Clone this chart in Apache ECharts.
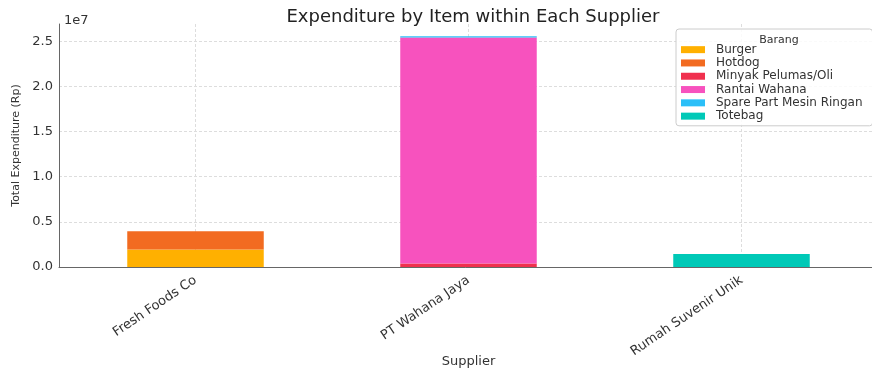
<!DOCTYPE html>
<html><head><meta charset="utf-8">
<script src="https://cdn.jsdelivr.net/npm/echarts@6/dist/echarts.min.js"></script>
<style>html,body{margin:0;padding:0;background:#fff}#c{width:872px;height:372px}</style>
</head><body><div id="c"></div>
<script>
const suppliers = ['Fresh Foods Co', 'PT Wahana Jaya', 'Rumah Suvenir Unik'];
const items = ['Burger', 'Hotdog', 'Minyak Pelumas/Oli', 'Rantai Wahana', 'Spare Part Mesin Ringan', 'Totebag'];
const burger = [1950000, null, null];
const hotdog = [2000000, null, null];
const minyak = [null, 400000, null];
const rantai = [null, 25000000, null];
const sparePart = [null, 150000, null];
const totebag = [null, null, 1450000];
const colors = ['#FFB000', '#F26B21', '#F0304E', '#F752BE', '#2BBFF8', '#00C9B7'];
const yTicks = ['0.0', '0.5', '1.0', '1.5', '2.0', '2.5'];
const seriesValues = [burger, hotdog, minyak, rantai, sparePart, totebag];

const FONT = 'DejaVu Sans';
const chart = echarts.init(document.getElementById('c'));
chart.setOption({
  animation: false,
  textStyle: { fontFamily: FONT },
  title: [
    { text: 'Expenditure by Item within Each Supplier', left: 468, top: 3, textAlign: 'center',
      textStyle: { fontFamily: FONT, fontSize: 18, fontWeight: 'normal', color: '#222' } },
    { text: '1e7', left: 59, top: 9, textStyle: { fontFamily: FONT, fontSize: 13, fontWeight: 'normal', color: '#333' } },
    { text: 'Barang', left: 774, top: 30, textAlign: 'center', textStyle: { fontFamily: FONT, fontSize: 11, fontWeight: 'normal', color: '#333' } }
  ],
  legend: {
    data: items, orient: 'vertical', left: 676, top: 29,
    padding: [14, 10, 3, 5], itemGap: 0, itemWidth: 24, itemHeight: 7, icon: 'rect',
    borderColor: '#ccc', borderWidth: 1, borderRadius: 3, backgroundColor: 'rgba(255,255,255,0.85)',
    textStyle: { fontFamily: FONT, fontSize: 12, lineHeight: 13.3, color: '#333', padding: [0, 0, 0, 6] }
  },
  grid: { left: 59, right: -6, top: 24, bottom: 105, containLabel: false, outerBoundsMode: 'none' },
  xAxis: [
    { type: 'category', data: suppliers, boundaryGap: true,
      name: 'Supplier', nameLocation: 'middle', nameGap: 88, nameMoveOverlap: false,
      nameTextStyle: { fontFamily: FONT, fontSize: 13, color: '#333' },
      axisLine: { lineStyle: { color: '#666', width: 1 } },
      axisTick: { alignWithLabel: true, length: 3, lineStyle: { color: '#333' } },
      axisLabel: { rotate: 34, fontSize: 13, color: '#333', margin: 12, fontFamily: FONT },
      splitLine: { show: false } },
    { type: 'category', data: ['0','1','2','3','4','5','6'], boundaryGap: false, position: 'bottom',
      axisLine: { show: false }, axisTick: { show: false }, axisLabel: { show: false },
      splitLine: { show: true, interval: (i) => i % 2 === 1, lineStyle: { color: '#ddd', type: [3, 2], width: 1 } } }
  ],
  yAxis: {
    type: 'value', min: 0, max: 26900000, interval: 5000000,
    name: 'Total Expenditure (Rp)', nameLocation: 'middle', nameGap: 37, nameRotate: 90, nameMoveOverlap: false,
    nameTextStyle: { fontFamily: FONT, fontSize: 11, color: '#333' },
    axisLine: { show: true, lineStyle: { color: '#666', width: 1 } },
    axisTick: { show: false },
    axisLabel: { fontSize: 13, color: '#333', margin: 6, showMaxLabel: false, fontFamily: FONT,
      formatter: (v) => { const i = Math.round(v / 5000000); return (Math.abs(v - i * 5000000) < 1 && i < yTicks.length) ? yTicks[i] : ''; } },
    splitLine: { show: true, showMaxLine: false, lineStyle: { color: '#ddd', type: [3, 2], width: 1 } }
  },
  series: items.map((name, k) => ({
    name, type: 'bar', stack: 'total', xAxisIndex: 0, barWidth: '50%',
    itemStyle: { color: colors[k] },
    data: seriesValues[k]
  }))
});
</script></body></html>
